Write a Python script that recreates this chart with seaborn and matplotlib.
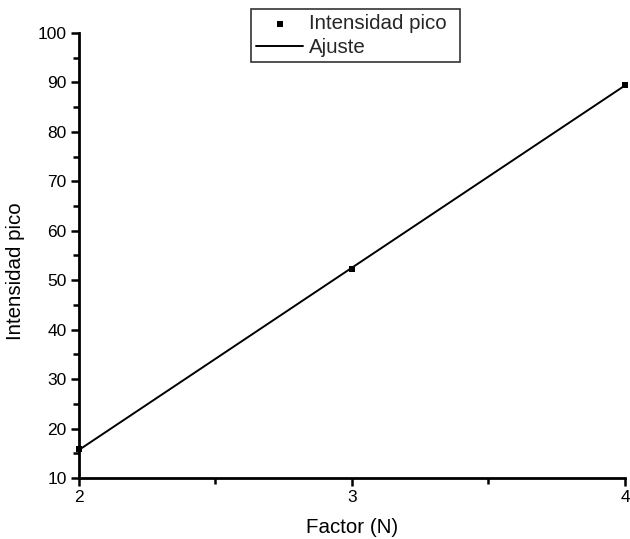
import numpy as np
import pandas as pd
import matplotlib
matplotlib.use("Agg")
import matplotlib.pyplot as plt
import seaborn as sns
from matplotlib.ticker import MultipleLocator

# Measured peak intensity for each factor
factor = [2, 3, 4]
intensidad = [15.8, 52.3, 89.5]

# Tick positions
x_ticks = [2, 3, 4]
y_ticks = [10, 20, 30, 40, 50, 60, 70, 80, 90, 100]

sns.set_theme(style="ticks")
plt.rcParams["font.family"] = ["Liberation Sans", "DejaVu Sans"]

df = pd.DataFrame({"Factor": factor, "Intensidad": intensidad})

# Linear fit of the measurements
slope, intercept = np.polyfit(df["Factor"], df["Intensidad"], 1)
fit = pd.DataFrame({"Factor": [min(factor), max(factor)]})
fit["Ajuste"] = slope * fit["Factor"] + intercept

fig = plt.figure(figsize=(6.3, 5.39), dpi=100)
ax = fig.add_axes([0.1254, 0.1132, 0.8666, 0.8256])

sns.scatterplot(data=df, x="Factor", y="Intensidad", ax=ax, marker="s",
                s=22, color="black", edgecolor="black", linewidth=0,
                label="Intensidad pico", zorder=3, clip_on=False)
sns.lineplot(data=fit, x="Factor", y="Ajuste", ax=ax, color="black",
             linewidth=1.4, label="Ajuste")

ax.set_xlim(2, 4)
ax.set_ylim(10, 100)
ax.set_xticks(x_ticks)
ax.set_yticks(y_ticks)
ax.xaxis.set_minor_locator(MultipleLocator(0.5))
ax.yaxis.set_minor_locator(MultipleLocator(5))

for side in ("top", "right"):
    ax.spines[side].set_visible(False)
for side in ("left", "bottom"):
    ax.spines[side].set_linewidth(2)
    ax.spines[side].set_color("black")

ax.tick_params(axis="both", which="major", direction="out", length=6,
               width=1.8, color="black", labelsize=12.5, labelcolor="black",
               pad=3)
ax.tick_params(axis="both", which="minor", direction="out", length=4,
               width=1.8, color="black")

ax.set_xlabel("Factor (N)", fontsize=14.8, color="black", labelpad=9)
ax.set_ylabel("Intensidad pico", fontsize=14.8, color="black")
ax.yaxis.set_label_coords(-0.099, 0.465)

leg = ax.legend(loc="upper left", bbox_to_anchor=(0.315, 0.5, 0.383, 0.554),
                mode="expand", frameon=True, fancybox=False, fontsize=14.8,
                handlelength=2.3, borderpad=0.25, labelspacing=0.25,
                handletextpad=0.25, borderaxespad=0)
leg.get_frame().set_edgecolor("black")
leg.get_frame().set_linewidth(1.2)

fig.savefig("out.png", dpi=100)
